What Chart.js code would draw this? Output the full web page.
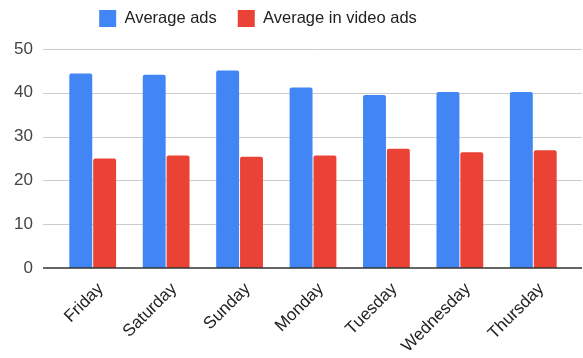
<!DOCTYPE html>
<html>
<head>
<meta charset="utf-8">
<script src="https://cdn.jsdelivr.net/npm/chart.js@4"></script>
<style>
  html, body { margin: 0; padding: 0; background: #fff; }
  #wrap { width: 583px; height: 358px; }
</style>
</head>
<body>
<div id="wrap"><canvas id="chart" width="583" height="358"></canvas></div>
<script>
'use strict';

const days = ['Friday', 'Saturday', 'Sunday', 'Monday', 'Tuesday', 'Wednesday', 'Thursday'];
const averageAds = [44.4, 44.1, 45.1, 41.2, 39.5, 40.2, 40.2];
const averageVideoAds = [25.0, 25.7, 25.4, 25.7, 27.2, 26.4, 26.9];
const yTicks = [0, 10, 20, 30, 40, 50];

const FONT = '"Liberation Sans", Arial, sans-serif';

// gridlines run a bit wider than the bar groups, so draw them by hand
const gridPlugin = {
  id: 'wideGrid',
  beforeDatasetsDraw(chart) {
    const { ctx, chartArea, scales } = chart;
    const left = chartArea.left - 13;
    const right = chartArea.right + 12;
    ctx.save();
    ctx.strokeStyle = '#cccccc';
    ctx.lineWidth = 1;
    yTicks.forEach((v) => {
      if (v === 0) return;
      const y = Math.round(scales.y.getPixelForValue(v)) + 0.5;
      ctx.beginPath();
      ctx.moveTo(left, y);
      ctx.lineTo(right, y);
      ctx.stroke();
    });
    ctx.restore();
  },
  afterDatasetsDraw(chart) {
    const { ctx, chartArea, scales } = chart;
    const y = scales.y.getPixelForValue(0);
    ctx.save();
    ctx.strokeStyle = '#333333';
    ctx.lineWidth = 1.5;
    ctx.beginPath();
    ctx.moveTo(chartArea.left - 13, y);
    ctx.lineTo(chartArea.right + 12, y);
    ctx.stroke();
    ctx.restore();
  },
};

// nudge the legend up and a little left of centre
const legendShift = {
  id: 'legendShift',
  afterLayout(chart) {
    const legend = chart.legend;
    legend.left -= 27;
    legend.right -= 27;
    legend.top -= 12;
    legend.bottom -= 12;
  },
};

const chartData = {
  labels: days,
  datasets: [
    {
      label: 'Average ads',
      data: averageAds,
      backgroundColor: '#4285f4',
      borderRadius: 2,
      categoryPercentage: 0.65,
      barPercentage: 0.96,
    },
    {
      label: 'Average in video ads',
      data: averageVideoAds,
      backgroundColor: '#ea4335',
      borderRadius: 2,
      categoryPercentage: 0.65,
      barPercentage: 0.96,
    },
  ],
};

const options = {
  responsive: false,
  animation: false,
  layout: {
    padding: { top: 1, right: 13, bottom: 0, left: 0 },
  },
  scales: {
    y: {
      min: 0,
      max: 50,
      afterFit(scale) {
        scale.width = 56;
      },
      afterBuildTicks(scale) {
        scale.ticks = yTicks.map((v) => ({ value: v }));
      },
      grid: { display: false, drawTicks: false },
      border: { display: false },
      ticks: {
        padding: 23,
        color: '#444444',
        font: { family: FONT, size: 17 },
      },
    },
    x: {
      afterFit(scale) {
        scale.height = 90;
      },
      grid: { display: false, drawTicks: false },
      border: { display: false },
      ticks: {
        minRotation: 45,
        maxRotation: 45,
        padding: 11,
        labelOffset: 8,
        color: '#222222',
        font: { family: FONT, size: 17 },
      },
    },
  },
  plugins: {
    legend: {
      display: true,
      position: 'top',
      labels: {
        boxWidth: 17,
        boxHeight: 17,
        padding: 21,
        color: '#222222',
        font: { family: FONT, size: 16.5 },
      },
    },
    tooltip: { enabled: false },
  },
};

const ctx = document.getElementById('chart');
new Chart(ctx, {
  type: 'bar',
  data: chartData,
  options: options,
  plugins: [gridPlugin, legendShift],
});
</script>
</body>
</html>
